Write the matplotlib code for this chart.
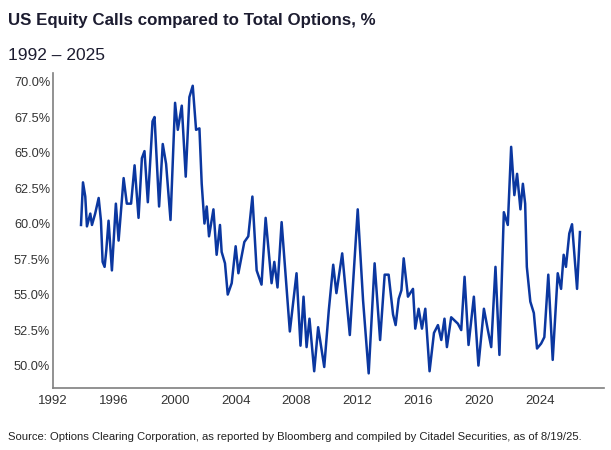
import matplotlib
matplotlib.use("Agg")
import matplotlib.pyplot as plt
from matplotlib.ticker import FuncFormatter

plt.rcParams['font.family'] = ['Liberation Sans', 'DejaVu Sans']

# positions along the chart's year axis (as labelled in the source)
dates = [
    1993.84, 1993.97, 1994.12, 1994.23, 1994.45, 1994.56, 1994.77, 1995.00, 1995.15, 1995.26,
    1995.39, 1995.50, 1995.65, 1995.87, 1996.13, 1996.31, 1996.64, 1996.85, 1997.13, 1997.36,
    1997.62, 1997.84, 1998.01, 1998.23, 1998.54, 1998.67, 1998.97, 1999.21, 1999.43, 1999.72,
    2000.02, 2000.20, 2000.46, 2000.72, 2000.96, 2001.18, 2001.40, 2001.62, 2001.77, 2001.95,
    2002.10, 2002.25, 2002.54, 2002.75, 2002.97, 2003.08, 2003.30, 2003.48, 2003.74, 2004.00,
    2004.18, 2004.57, 2004.83, 2005.10, 2005.38, 2005.70, 2005.97, 2006.36, 2006.54, 2006.75,
    2007.02, 2007.56, 2008.00, 2008.26, 2008.46, 2008.66, 2008.85, 2009.16, 2009.42, 2009.82,
    2010.12, 2010.41, 2010.62, 2011.00, 2011.50, 2012.02, 2012.37, 2012.74, 2013.13, 2013.49,
    2013.79, 2014.05, 2014.34, 2014.51, 2014.71, 2014.89, 2015.04, 2015.32, 2015.65, 2015.80,
    2016.02, 2016.24, 2016.46, 2016.74, 2017.03, 2017.29, 2017.51, 2017.72, 2017.88, 2018.16,
    2018.60, 2018.82, 2019.04, 2019.30, 2019.65, 2019.95, 2020.31, 2020.57, 2020.79, 2021.07,
    2021.33, 2021.62, 2021.88, 2022.10, 2022.31, 2022.49, 2022.71, 2022.87, 2023.02, 2023.13,
    2023.36, 2023.59, 2023.80, 2024.07, 2024.28, 2024.54, 2024.83, 2025.16, 2025.38, 2025.55,
    2025.70, 2025.92, 2026.10, 2026.43, 2026.62,
]

call_share = [
    59.9, 62.9, 61.9, 59.8, 60.7, 59.9, 60.7, 61.8, 60.2, 57.3,
    56.95, 58.1, 60.2, 56.7, 61.4, 58.8, 63.2, 61.4, 61.4, 64.1,
    60.4, 64.6, 65.1, 61.5, 67.2, 67.5, 61.2, 65.6, 64.2, 60.25,
    68.5, 66.6, 68.3, 63.3, 68.9, 69.7, 66.6, 66.7, 62.8, 60.0,
    61.2, 59.1, 61.0, 57.8, 59.9, 58.0, 57.2, 55.0, 55.8, 58.4,
    56.5, 58.7, 59.1, 61.9, 56.7, 55.7, 60.4, 55.8, 57.3, 55.5,
    60.1, 52.4, 56.5, 51.4, 54.85, 51.3, 53.3, 49.6, 52.7, 49.9,
    53.9, 57.1, 55.1, 57.9, 52.15, 61.0, 54.6, 49.45, 57.2, 51.8,
    56.4, 56.4, 53.6, 52.85, 54.7, 55.3, 57.55, 54.85, 55.4, 52.6,
    54.0, 52.6, 54.0, 49.6, 52.3, 52.85, 51.8, 53.3, 51.3, 53.4,
    52.95, 52.5, 56.25, 51.45, 54.85, 50.0, 54.0, 52.5, 51.3, 56.95,
    50.75, 60.8, 59.9, 65.4, 62.0, 63.5, 61.0, 62.8, 61.4, 56.95,
    54.5, 53.7, 51.2, 51.55, 52.0, 56.4, 50.4, 56.5, 55.4, 57.8,
    56.95, 59.3, 59.95, 55.4, 59.4,
]

year_ticks = [1992, 1996, 2000, 2004, 2008, 2012, 2016, 2020, 2024]
pct_ticks = [50.0, 52.5, 55.0, 57.5, 60.0, 62.5, 65.0, 67.5, 70.0]

fig = plt.figure(figsize=(6.11, 4.5), dpi=100)
ax = fig.add_axes([53 / 611, 62 / 450, 551 / 611, 315 / 450])

ax.plot(dates, call_share, color='#0b37a0', linewidth=1.8, solid_joinstyle='round')

ax.set_xlim(1992, 2028.2)
ax.set_ylim(48.42, 70.6)
ax.set_xticks(year_ticks)
ax.set_xticklabels([str(y) for y in year_ticks])
ax.set_yticks(pct_ticks)
ax.yaxis.set_major_formatter(FuncFormatter(lambda v, p: f"{v:.1f}%"))

for side in ['top', 'right']:
    ax.spines[side].set_visible(False)
for side in ['left', 'bottom']:
    ax.spines[side].set_color('#7f7f7f')
    ax.spines[side].set_linewidth(1.2)

ax.tick_params(axis='both', length=0, colors='#333333')
ax.tick_params(axis='x', labelsize=9.5, pad=5)
ax.tick_params(axis='y', labelsize=9.2, pad=2)

fig.text(8 / 611, 1 - 20 / 450, "US Equity Calls compared to Total Options, %",
         fontsize=12.2, fontweight='bold', color='#1c1c30', va='center', ha='left')
fig.text(8 / 611, 1 - 56 / 450, "1992 \u2013 2025",
         fontsize=12.5, color='#1c1c30', va='center', ha='left')
fig.text(8 / 611, 1 - 437 / 450,
         "Source: Options Clearing Corporation, as reported by Bloomberg and compiled by Citadel Securities, as of 8/19/25.",
         fontsize=8.15, color='#222222', va='center', ha='left')

fig.savefig("out.png", dpi=100)
